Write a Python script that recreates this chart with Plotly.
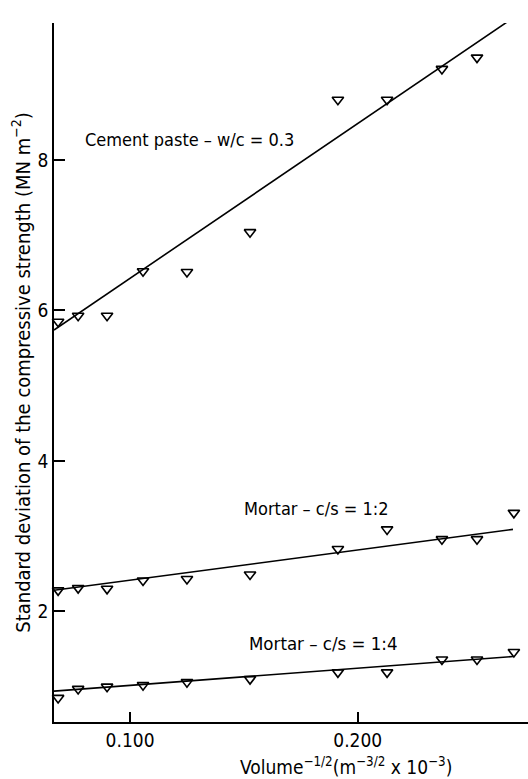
import plotly.graph_objects as go

# Data
x_vals = [0.0684, 0.0772, 0.0899, 0.1057, 0.1250, 0.1527, 0.1913, 0.2129, 0.2370, 0.2524, 0.2686]
cement_paste = [5.85, 5.93, 5.93, 6.52, 6.51, 7.04, 8.80, 8.80, 9.21, 9.36, 9.89]
mortar_12 = [2.28, 2.31, 2.30, 2.41, 2.43, 2.49, 2.83, 3.09, 2.96, 2.96, 3.31]
mortar_14 = [0.85, 0.97, 1.00, 1.02, 1.06, 1.10, 1.19, 1.19, 1.36, 1.36, 1.46]

# fitted line endpoints
fit_cement_x = [0.0666, 0.2713]
fit_cement = [5.74, 9.95]
fit_m12_x = [0.0666, 0.2682]
fit_m12 = [2.28, 3.09]
fit_m14_x = [0.0666, 0.2682]
fit_m14 = [0.94, 1.40]

labels = ["Cement paste \u2013 w/c = 0.3", "Mortar \u2013 c/s = 1:2", "Mortar \u2013 c/s = 1:4"]
label_x = [0.1259, 0.1821, 0.1848]
label_y = [8.27, 3.37, 1.58]
label_size = [18, 18, 18.5]

x_ticks = [0.1, 0.2]
x_tick_text = ["0.100", "0.200"]
y_ticks = [2, 4, 6, 8]

FONT = "DejaVu Sans Condensed"

fig = go.Figure()
for fx, fy in [(fit_cement_x, fit_cement), (fit_m12_x, fit_m12), (fit_m14_x, fit_m14)]:
    fig.add_trace(go.Scatter(x=fx, y=fy, mode="lines",
                             line=dict(color="black", width=1.6),
                             showlegend=False, cliponaxis=False, hoverinfo="skip"))
for ys in [cement_paste, mortar_12, mortar_14]:
    fig.add_trace(go.Scatter(x=x_vals, y=ys, mode="markers",
                             marker=dict(symbol="triangle-down-open", size=10,
                                         color="black", line=dict(width=1.6, color="black")),
                             showlegend=False, cliponaxis=False))

for t, lx, ly, ls in zip(labels, label_x, label_y, label_size):
    fig.add_annotation(x=lx, y=ly, text=t, showarrow=False,
                       xanchor="center", yanchor="middle",
                       font=dict(family=FONT, size=ls, color="black"))

# x axis title as annotation (offset right of centre in the reference)
fig.add_annotation(x=0.1950, y=-0.063, xref="x", yref="paper",
                   text="Volume<sup>\u22121/2</sup>(m<sup>\u22123/2</sup> x 10<sup>\u22123</sup>)",
                   showarrow=False, xanchor="center", yanchor="middle",
                   font=dict(family=FONT, size=19, color="black"))

fig.update_layout(
    width=528, height=779,
    margin=dict(l=54, r=0, t=23, b=57, autoexpand=False),
    paper_bgcolor="white", plot_bgcolor="white",
    font=dict(family=FONT, size=19, color="black"),
    showlegend=False,
)
fig.update_xaxes(
    range=[0.0666, 0.2748], tickvals=x_ticks, ticktext=x_tick_text,
    ticks="inside", ticklen=10, tickwidth=1.5, tickcolor="black",
    tickfont=dict(family=FONT, size=19),
    showline=True, linecolor="black", linewidth=1.5,
    showgrid=False, zeroline=False, automargin=False,
)
fig.update_yaxes(
    range=[0.53, 9.82], tickvals=y_ticks,
    ticks="inside", ticklen=11, tickwidth=1.5, tickcolor="black",
    tickfont=dict(family=FONT, size=19),
    showline=True, linecolor="black", linewidth=1.5,
    showgrid=False, zeroline=False, automargin=False,
    title=dict(text="Standard deviation of the compressive strength (MN m<sup>\u22122</sup>)",
               standoff=2, font=dict(family=FONT, size=20)),
)

fig.write_html("out.html", config={"displayModeBar": False},
               post_script="document.body.style.margin='0';")
